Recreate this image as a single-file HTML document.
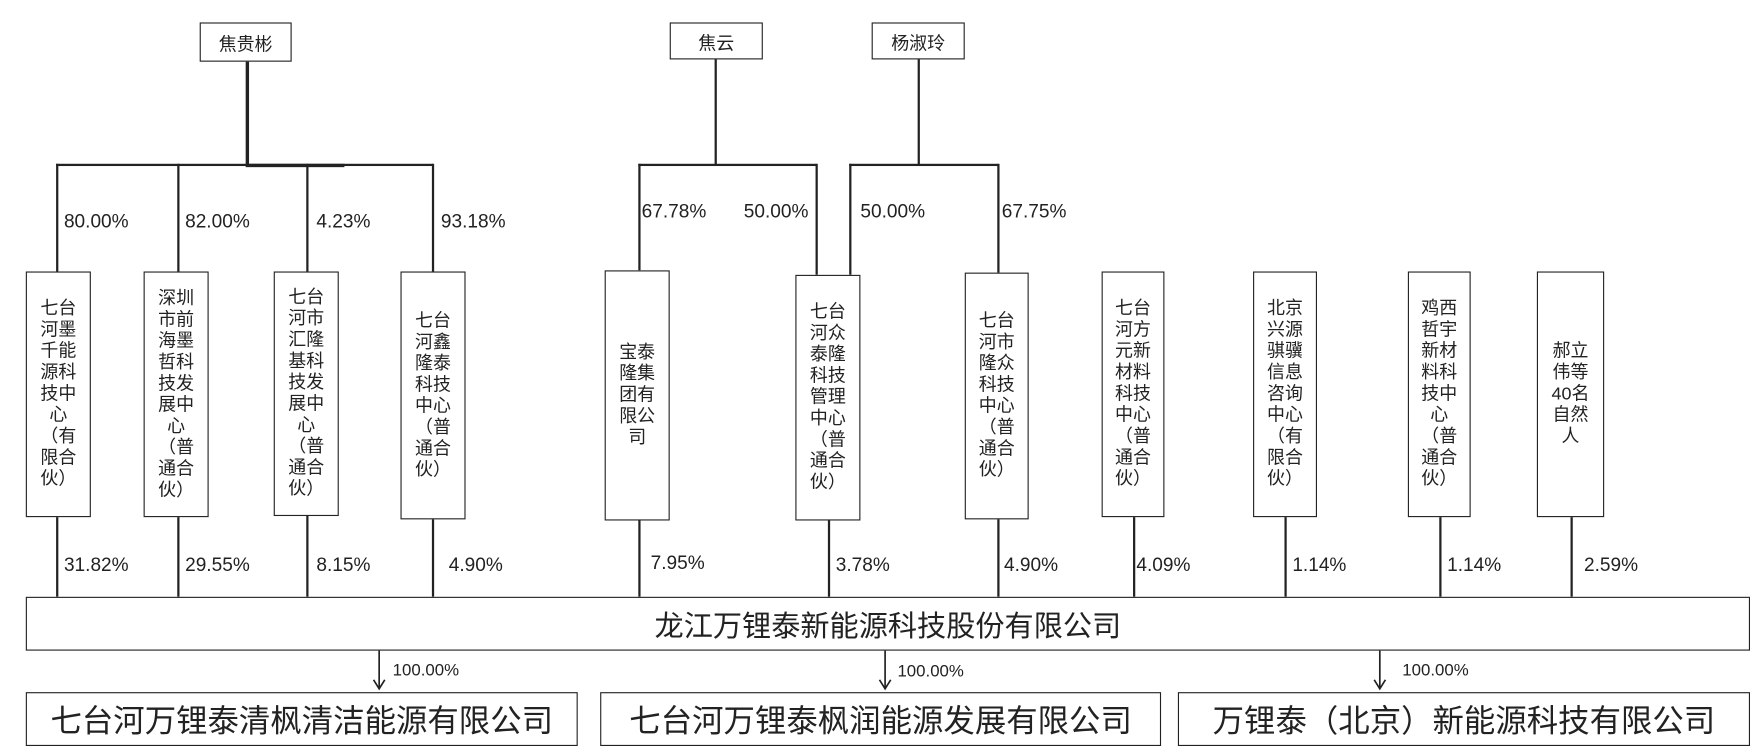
<!DOCTYPE html>
<html><head><meta charset="utf-8"><style>
html,body{margin:0;padding:0;background:#fff;width:1759px;height:752px;overflow:hidden}
#c{position:absolute;left:0;top:0;width:1568px;height:670px;transform:scale(1.1218);transform-origin:0 0;font-family:"Liberation Sans","Noto Sans CJK SC",sans-serif;color:#222}
.b{position:absolute;border:1.5px solid #222;box-sizing:border-box;display:flex;align-items:center;justify-content:center;text-align:center;background:#fff}
.v{font-size:16px;line-height:19px;padding:0 6px;word-break:break-all}
.l{position:absolute;background:#222}
.t{position:absolute;font-size:17px;white-space:nowrap}
</style></head><body><div id="c">
<div class="b" style="left:178px;top:20px;width:82px;height:35px;font-size:16px">焦贵彬</div>
<div class="b" style="left:597px;top:20px;width:83px;height:33px;font-size:16px">焦云</div>
<div class="b" style="left:777px;top:20px;width:83px;height:33px;font-size:16px">杨淑玲</div>
<div class="l" style="left:219px;top:55px;width:2.5px;height:93px"></div>
<div class="l" style="left:50px;top:146px;width:336px;height:1.5px"></div>
<div class="l" style="left:219px;top:146px;width:88px;height:2.5px"></div>
<div class="l" style="left:50px;top:146px;width:1.5px;height:96px"></div>
<div class="l" style="left:158px;top:146px;width:1.5px;height:96px"></div>
<div class="l" style="left:273px;top:146px;width:1.5px;height:96px"></div>
<div class="l" style="left:385px;top:146px;width:1.5px;height:96px"></div>
<div class="t" style="left:57px;top:188px">80.00%</div>
<div class="t" style="left:165px;top:188px">82.00%</div>
<div class="t" style="left:282px;top:188px">4.23%</div>
<div class="t" style="left:393px;top:188px">93.18%</div>
<div class="l" style="left:637px;top:53px;width:1.5px;height:94px"></div>
<div class="l" style="left:569px;top:146px;width:159px;height:1.5px"></div>
<div class="l" style="left:569px;top:146px;width:1.5px;height:95px"></div>
<div class="l" style="left:727px;top:146px;width:1.5px;height:99px"></div>
<div class="t" style="left:572px;top:179px">67.78%</div>
<div class="t" style="left:663px;top:179px">50.00%</div>
<div class="l" style="left:818px;top:53px;width:1.5px;height:94px"></div>
<div class="l" style="left:757px;top:146px;width:133px;height:1.5px"></div>
<div class="l" style="left:757px;top:146px;width:1.5px;height:99px"></div>
<div class="l" style="left:889px;top:146px;width:1.5px;height:97px"></div>
<div class="t" style="left:767px;top:179px">50.00%</div>
<div class="t" style="left:893px;top:179px">67.75%</div>
<div class="b v" style="left:23px;top:242px;width:58px;height:219px">七台河墨千能源科技中心（有限合伙）</div>
<div class="b v" style="left:128px;top:242px;width:58px;height:219px">深圳市前海墨哲科技发展中心（普通合伙）</div>
<div class="b v" style="left:244px;top:242px;width:58px;height:218px">七台河市汇隆基科技发展中心（普通合伙）</div>
<div class="b v" style="left:357px;top:242px;width:58px;height:221px">七台河鑫隆泰科技中心（普通合伙）</div>
<div class="b v" style="left:539px;top:241px;width:58px;height:223px">宝泰隆集团有限公司</div>
<div class="b v" style="left:709px;top:245px;width:58px;height:219px">七台河众泰隆科技管理中心（普通合伙）</div>
<div class="b v" style="left:860px;top:243px;width:57px;height:220px">七台河市隆众科技中心（普通合伙）</div>
<div class="b v" style="left:982px;top:242px;width:56px;height:219px">七台河方元新材料科技中心（普通合伙）</div>
<div class="b v" style="left:1117px;top:242px;width:57px;height:219px">北京兴源骐骥信息咨询中心（有限合伙）</div>
<div class="b v" style="left:1255px;top:242px;width:56px;height:219px">鸡西哲宇新材料科技中心（普通合伙）</div>
<div class="b v" style="left:1370px;top:242px;width:60px;height:219px">郝立<br>伟等<br>40名<br>自然<br>人</div>
<div class="l" style="left:50px;top:461px;width:1.5px;height:71px"></div>
<div class="l" style="left:158px;top:461px;width:1.5px;height:71px"></div>
<div class="l" style="left:273px;top:460px;width:1.5px;height:72px"></div>
<div class="l" style="left:385px;top:463px;width:1.5px;height:69px"></div>
<div class="l" style="left:569px;top:464px;width:1.5px;height:68px"></div>
<div class="l" style="left:738px;top:464px;width:1.5px;height:68px"></div>
<div class="l" style="left:889px;top:463px;width:1.5px;height:69px"></div>
<div class="l" style="left:1010px;top:461px;width:1.5px;height:71px"></div>
<div class="l" style="left:1145px;top:461px;width:1.5px;height:71px"></div>
<div class="l" style="left:1283px;top:461px;width:1.5px;height:71px"></div>
<div class="l" style="left:1400px;top:461px;width:1.5px;height:71px"></div>
<div class="t" style="left:57px;top:494px">31.82%</div>
<div class="t" style="left:165px;top:494px">29.55%</div>
<div class="t" style="left:282px;top:494px">8.15%</div>
<div class="t" style="left:400px;top:494px">4.90%</div>
<div class="t" style="left:580px;top:492px">7.95%</div>
<div class="t" style="left:745px;top:494px">3.78%</div>
<div class="t" style="left:895px;top:494px">4.90%</div>
<div class="t" style="left:1013px;top:494px">4.09%</div>
<div class="t" style="left:1152px;top:494px">1.14%</div>
<div class="t" style="left:1290px;top:494px">1.14%</div>
<div class="t" style="left:1412px;top:494px">2.59%</div>
<div class="b" style="left:23px;top:532px;width:1537px;height:48px;font-size:26px">龙江万锂泰新能源科技股份有限公司</div>
<svg style="position:absolute;left:0;top:0" width="1568" height="670">
<g stroke="#222" stroke-width="1.5" fill="none">
<line x1="338" y1="580" x2="338" y2="614"/><polyline points="333,606 338,614 343,606"/>
<line x1="789" y1="580" x2="789" y2="614"/><polyline points="784,606 789,614 794,606"/>
<line x1="1230" y1="580" x2="1230" y2="614"/><polyline points="1225,606 1230,614 1235,606"/>
</g></svg>
<div class="t" style="left:350px;top:589px;font-size:15px">100.00%</div>
<div class="t" style="left:800px;top:590px;font-size:15px">100.00%</div>
<div class="t" style="left:1250px;top:589px;font-size:15px">100.00%</div>
<div class="b" style="left:23px;top:617px;width:492px;height:48px;font-size:28px">七台河万锂泰清枫清洁能源有限公司</div>
<div class="b" style="left:535px;top:617px;width:500px;height:48px;font-size:28px">七台河万锂泰枫润能源发展有限公司</div>
<div class="b" style="left:1050px;top:617px;width:510px;height:48px;font-size:28px">万锂泰（北京）新能源科技有限公司</div>
</div></body></html>
